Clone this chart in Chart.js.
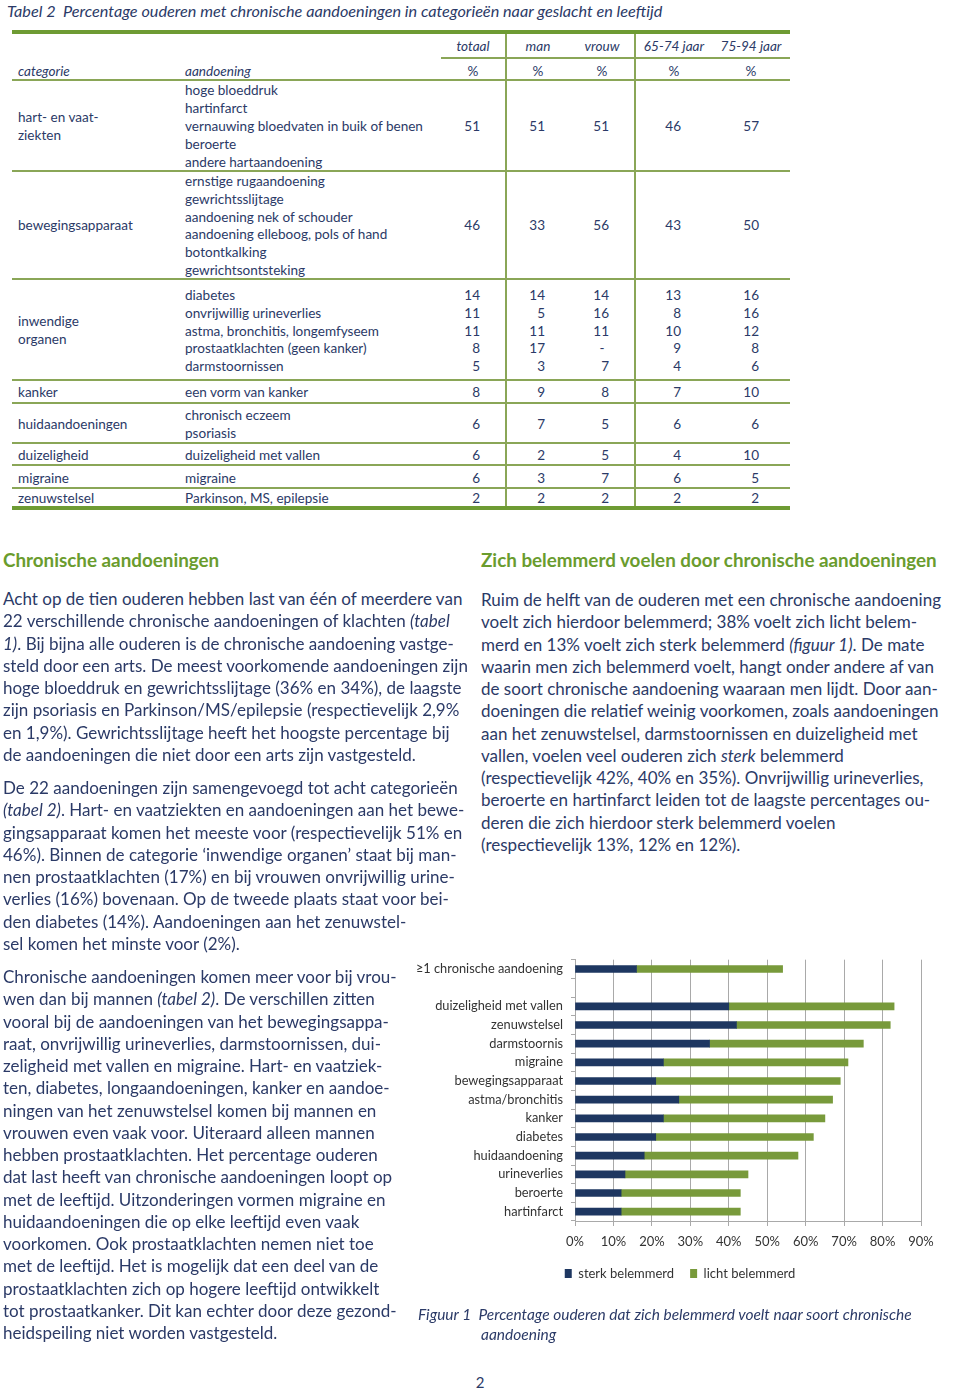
<!DOCTYPE html>
<html><head><meta charset="utf-8">
<script src="https://cdn.jsdelivr.net/npm/chart.js@4.4.1/dist/chart.umd.min.js"></script>
<style>
html,body{margin:0;padding:0;background:#fff;}
body{width:960px;height:1394px;position:relative;overflow:hidden;font-family:Lato,'Open Sans',sans-serif;color:#2b3a67;}
.a{position:absolute;white-space:nowrap;line-height:20px;}
.ln{position:absolute;}
#chartBox{position:absolute;left:415px;top:944px;width:545px;height:346px;}
</style></head><body>
<div id="chartBox"><canvas id="c" width="545" height="346"></canvas></div>
<script>
// ---------- chart data (Figuur 1) ----------
const categories = ['≥1 chronische aandoening', '', 'duizeligheid met vallen', 'zenuwstelsel', 'darmstoornis', 'migraine', 'bewegingsapparaat', 'astma/bronchitis', 'kanker', 'diabetes', 'huidaandoening', 'urineverlies', 'beroerte', 'hartinfarct'];
const sterkBelemmerd = [16, null, 40, 42, 35, 23, 21, 27, 23, 21, 18, 13, 12, 12];
const lichtBelemmerd = [38, null, 43, 40, 40, 48, 48, 40, 42, 41, 40, 32, 31, 31];
const seriesNames = ['sterk belemmerd', 'licht belemmerd'];
const xTickValues = [0, 10, 20, 30, 40, 50, 60, 70, 80, 90];

// ---------- table data (Tabel 2) ----------
const colHeaders = ['totaal', 'man', 'vrouw', '65-74 jaar', '75-94 jaar'];
const colCenters = [473, 538, 602, 674, 751];
const colRights = [480, 545, 609, 681, 759];
const hartValues = ['51', '51', '51', '46', '57'];
const bewegingValues = ['46', '33', '56', '43', '50'];
const inwendigeItems = ['diabetes', 'onvrijwillig urineverlies', 'astma, bronchitis, longemfyseem', 'prostaatklachten (geen kanker)', 'darmstoornissen'];
const inwendigeValues = [['14','14','14','13','16'], ['11','5','16','8','16'], ['11','11','11','10','12'], ['8','17','-','9','8'], ['5','3','7','4','6']];
const kankerValues = ['8', '9', '8', '7', '10'];
const huidValues = ['6', '7', '5', '6', '6'];
const duizelValues = ['6', '2', '5', '4', '10'];
const migraineValues = ['6', '3', '7', '6', '5'];
const zenuwValues = ['2', '2', '2', '2', '2'];

const NAVY = '#2b3a67';
const GREEN_H = '#6a9c2e';
const LINE_THICK = '#6e9b33';
const LINE_THIN = '#8aa657';
const FAM = "Lato, 'Open Sans', sans-serif";

function measure(html, size, style, weight) {
  const d = document.createElement('span');
  d.style.cssText = 'position:absolute;visibility:hidden;white-space:nowrap;font-family:' + FAM + ';font-size:' + size + 'px;font-style:' + (style || 'normal') + ';font-weight:' + (weight || 'normal');
  d.innerHTML = html; document.body.appendChild(d);
  const w = d.getBoundingClientRect().width; d.remove(); return w;
}
function fit(html, target, style, weight) { return 20 * target / measure(html, 20, style, weight); }

function put(x, y, html, o) {
  o = o || {};
  const d = document.createElement('div'); d.className = 'a'; d.innerHTML = html;
  d.style.left = x + 'px'; d.style.top = (y - 10) + 'px';
  if (o.size) d.style.fontSize = o.size + 'px';
  if (o.italic) d.style.fontStyle = 'italic';
  if (o.bold) d.style.fontWeight = 'bold';
  if (o.color) d.style.color = o.color;
  if (o.align === 'center') d.style.transform = 'translateX(-50%)';
  if (o.align === 'right') d.style.transform = 'translateX(-100%)';
  document.body.appendChild(d); return d;
}
function hline(x1, x2, y, h, c) {
  const d = document.createElement('div'); d.className = 'ln';
  d.style.cssText += 'left:' + x1 + 'px;width:' + (x2 - x1) + 'px;top:' + (y - h / 2) + 'px;height:' + h + 'px;background:' + c;
  document.body.appendChild(d);
}
function vline(x, y1, y2, w, c) {
  const d = document.createElement('div'); d.className = 'ln';
  d.style.cssText += 'left:' + (x - w / 2) + 'px;width:' + w + 'px;top:' + y1 + 'px;height:' + (y2 - y1) + 'px;background:' + c;
  document.body.appendChild(d);
}

// ---------- Table ----------
const titleTxt = 'Tabel 2&nbsp; Percentage ouderen met chronische aandoeningen in categorieën naar geslacht en leeftijd';
put(7, 11, titleTxt, {italic: true, size: fit(titleTxt, 656, 'italic')});
const ts = fit('vernauwing bloedvaten in buik of benen', 238);

hline(12, 790, 32, 4, LINE_THICK);
hline(441, 790, 58, 1.5, LINE_THIN);
hline(12, 790, 80, 1.5, LINE_THIN);
hline(12, 790, 171, 1.5, LINE_THIN);
hline(12, 790, 279, 1.5, LINE_THIN);
hline(12, 790, 380, 1.5, LINE_THIN);
hline(12, 790, 403, 1.5, LINE_THIN);
hline(12, 790, 443, 1.5, LINE_THIN);
hline(12, 790, 465, 1.5, LINE_THIN);
hline(12, 790, 488, 1.5, LINE_THIN);
hline(12, 790, 508, 4, LINE_THICK);
vline(506, 34, 506, 1.6, LINE_THIN);
vline(635, 34, 506, 1.6, LINE_THIN);

colHeaders.forEach((h, i) => put(colCenters[i], 46, h, {italic: true, size: ts, align: 'center'}));
put(18, 71, 'categorie', {italic: true, size: ts});
put(185, 71, 'aandoening', {italic: true, size: ts});
colCenters.forEach(c => put(c, 71, '%', {size: ts, align: 'center'}));

function vals(arr, y) {
  arr.forEach((v, i) => {
    if (v === '-') put(colCenters[i], y, v, {size: ts, align: 'center'});
    else put(colRights[i], y, v, {size: ts, align: 'right'});
  });
}
// hart- en vaatziekten
put(18, 117, 'hart- en vaat-', {size: ts}); put(18, 135, 'ziekten', {size: ts});
['hoge bloeddruk', 'hartinfarct', 'vernauwing bloedvaten in buik of benen', 'beroerte', 'andere hartaandoening']
  .forEach((t, i) => put(185, 90 + i * 17.9, t, {size: ts}));
vals(hartValues, 126);
// bewegingsapparaat
put(18, 225, 'bewegingsapparaat', {size: ts});
['ernstige rugaandoening', 'gewrichtsslijtage', 'aandoening nek of schouder', 'aandoening elleboog, pols of hand', 'botontkalking', 'gewrichtsontsteking']
  .forEach((t, i) => put(185, 181 + i * 17.8, t, {size: ts}));
vals(bewegingValues, 225);
// inwendige organen
put(18, 321, 'inwendige', {size: ts}); put(18, 339, 'organen', {size: ts});
inwendigeItems.forEach((t, i) => { put(185, 295 + i * 17.8, t, {size: ts}); vals(inwendigeValues[i], 295 + i * 17.8); });
// kanker
put(18, 392, 'kanker', {size: ts}); put(185, 392, 'een vorm van kanker', {size: ts}); vals(kankerValues, 392);
// huid
put(18, 424, 'huidaandoeningen', {size: ts}); put(185, 415, 'chronisch eczeem', {size: ts}); put(185, 433, 'psoriasis', {size: ts}); vals(huidValues, 424);
// duizeligheid
put(18, 455, 'duizeligheid', {size: ts}); put(185, 455, 'duizeligheid met vallen', {size: ts}); vals(duizelValues, 455);
// migraine
put(18, 478, 'migraine', {size: ts}); put(185, 478, 'migraine', {size: ts}); vals(migraineValues, 478);
// zenuwstelsel
put(18, 498, 'zenuwstelsel', {size: ts}); put(185, 498, 'Parkinson, MS, epilepsie', {size: ts}); vals(zenuwValues, 498);

// ---------- Text ----------
const hs = fit('Zich belemmerd voelen door chronische aandoeningen', 456, 'normal', 'bold');
put(3, 560, 'Chronische aandoeningen', {bold: true, size: hs, color: GREEN_H});
put(481, 560, 'Zich belemmerd voelen door chronische aandoeningen', {bold: true, size: hs, color: GREEN_H});

const bs = fit('Acht op de tien ouderen hebben last van één of meerdere van', 460);
function para(x, y0, lines) { lines.forEach((l, i) => put(x, y0 + i * 22.25, l, {size: bs})); }
para(3, 599, [
  'Acht op de tien ouderen hebben last van één of meerdere van',
  '22 verschillende chronische aandoeningen of klachten <i>(tabel</i>',
  '<i>1)</i>. Bij bijna alle ouderen is de chronische aandoening vastge-',
  'steld door een arts. De meest voorkomende aandoeningen zijn',
  'hoge bloeddruk en gewrichtsslijtage (36% en 34%), de laagste',
  'zijn psoriasis en Parkinson/MS/epilepsie (respectievelijk 2,9%',
  'en 1,9%). Gewrichtsslijtage heeft het hoogste percentage bij',
  'de aandoeningen die niet door een arts zijn vastgesteld.'
]);
para(3, 788, [
  'De 22 aandoeningen zijn samengevoegd tot acht categorieën',
  '<i>(tabel 2)</i>. Hart- en vaatziekten en aandoeningen aan het bewe-',
  'gingsapparaat komen het meeste voor (respectievelijk 51% en',
  '46%). Binnen de categorie ‘inwendige organen’ staat bij man-',
  'nen prostaatklachten (17%) en bij vrouwen onvrijwillig urine-',
  'verlies (16%) bovenaan. Op de tweede plaats staat voor bei-',
  'den diabetes (14%). Aandoeningen aan het zenuwstel-',
  'sel komen het minste voor (2%).'
]);
para(3, 977, [
  'Chronische aandoeningen komen meer voor bij vrou-',
  'wen dan bij mannen <i>(tabel 2)</i>. De verschillen zitten',
  'vooral bij de aandoeningen van het bewegingsappa-',
  'raat, onvrijwillig urineverlies, darmstoornissen, dui-',
  'zeligheid met vallen en migraine. Hart- en vaatziek-',
  'ten, diabetes, longaandoeningen, kanker en aandoe-',
  'ningen van het zenuwstelsel komen bij mannen en',
  'vrouwen even vaak voor. Uiteraard alleen mannen',
  'hebben prostaatklachten. Het percentage ouderen',
  'dat last heeft van chronische aandoeningen loopt op',
  'met de leeftijd. Uitzonderingen vormen migraine en',
  'huidaandoeningen die op elke leeftijd even vaak',
  'voorkomen. Ook prostaatklachten nemen niet toe',
  'met de leeftijd. Het is mogelijk dat een deel van de',
  'prostaatklachten zich op hogere leeftijd ontwikkelt',
  'tot prostaatkanker. Dit kan echter door deze gezond-',
  'heidspeiling niet worden vastgesteld.'
]);
para(481, 600, [
  'Ruim de helft van de ouderen met een chronische aandoening',
  'voelt zich hierdoor belemmerd; 38% voelt zich licht belem-',
  'merd en 13% voelt zich sterk belemmerd <i>(figuur 1)</i>. De mate',
  'waarin men zich belemmerd voelt, hangt onder andere af van',
  'de soort chronische aandoening waaraan men lijdt. Door aan-',
  'doeningen die relatief weinig voorkomen, zoals aandoeningen',
  'aan het zenuwstelsel, darmstoornissen en duizeligheid met',
  'vallen, voelen veel ouderen zich <i>sterk</i> belemmerd',
  '(respectievelijk 42%, 40% en 35%). Onvrijwillig urineverlies,',
  'beroerte en hartinfarct leiden tot de laagste percentages ou-',
  'deren die zich hierdoor sterk belemmerd voelen',
  '(respectievelijk 13%, 12% en 12%).'
]);

// caption + page number
const capTxt = 'Figuur 1&nbsp;&nbsp;Percentage ouderen dat zich belemmerd voelt naar soort chronische';
const cs = fit(capTxt, 494, 'italic');
put(418, 1314, capTxt, {italic: true, size: cs});
put(481, 1334, 'aandoening', {italic: true, size: cs});
put(480, 1382, '2', {size: 15, align: 'center'});

// ---------- Chart ----------
Chart.defaults.font.family = FAM;
const GRID = '#a9a9a9';
const legendShift = {
  id: 'legendShift',
  afterLayout(chart) {
    const l = chart.legend;
    if (l && !l._shifted) { l.left += 12; l.right += 12; l._shifted = true; }
  }
};
new Chart(document.getElementById('c'), {
  type: 'bar',
  data: {
    labels: categories,
    datasets: [
      {label: seriesNames[0], data: sterkBelemmerd, backgroundColor: '#1e3761', barThickness: 7},
      {label: seriesNames[1], data: lichtBelemmerd, backgroundColor: '#789a3b', barThickness: 7}
    ]
  },
  plugins: [legendShift],
  options: {
    indexAxis: 'y',
    responsive: false,
    animation: false,
    layout: {padding: {top: 0, right: 39, left: 0, bottom: 0}},
    plugins: {
      tooltip: {enabled: false},
      legend: {
        position: 'bottom',
        labels: {boxWidth: 7, boxHeight: 9, padding: 16, color: '#333', font: {size: 13}}
      }
    },
    scales: {
      x: {
        stacked: true, min: 0, max: 90,
        afterBuildTicks: s => { s.ticks = xTickValues.map(v => ({value: v})); },
        ticks: {callback: v => v + '%', color: '#333', font: {size: 13}, padding: 8, maxRotation: 0, autoSkip: false},
        grid: {color: GRID, lineWidth: 1, tickLength: 5},
        border: {color: GRID},
        afterFit: s => { s.height = 30; }
      },
      y: {
        stacked: true,
        ticks: {color: '#333', font: {size: 12.8}, padding: 8, autoSkip: false},
        grid: {drawOnChartArea: false, tickLength: 4, color: GRID},
        border: {color: GRID},
        afterFit: s => { s.width = 160; }
      }
    }
  }
});
</script>
</body></html>
